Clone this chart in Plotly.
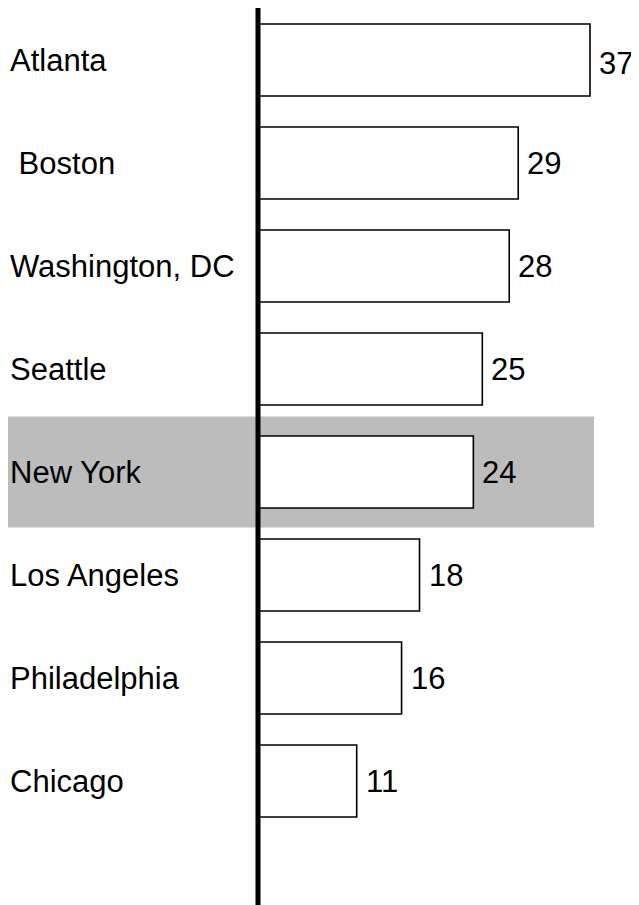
import plotly.graph_objects as go

cities = ["Atlanta", " Boston", "Washington, DC", "Seattle", "New York",
          "Los Angeles", "Philadelphia", "Chicago"]
values = [37, 29, 28, 25, 24, 18, 16, 11]
highlight = "New York"

# page body has an 8px margin, so the figure is drawn 8px in and down
OFF = 8
W, H = 639 - OFF, 905 - OFF
axis_px = 258 - OFF
px_per_unit = 332 / 37
row_px = 103
first_center = 60 - OFF

x_range = [-axis_px / px_per_unit, (W - axis_px) / px_per_unit]
y_range = [(H - first_center) / row_px, -first_center / row_px]

font_family = "Liberation Sans, Arial, sans-serif"
fs = 31

fig = go.Figure()
fig.add_trace(go.Bar(
    x=values, y=list(range(len(cities))), orientation="h", width=0.7,
    marker=dict(color="white", line=dict(color="black", width=1.6)),
    hoverinfo="skip", showlegend=False,
))

hi = cities.index(highlight)
fig.add_shape(type="rect", xref="paper", x0=-0.05, x1=(594 - OFF) / W,
              yref="y", y0=hi - 0.54, y1=hi + 0.54,
              fillcolor="#bcbcbc", line=dict(width=0), layer="below")
fig.add_shape(type="line", xref="x", x0=0, x1=0, yref="paper",
              y0=0, y1=1, line=dict(color="black", width=5),
              layer="above")

for i, (c, v) in enumerate(zip(cities, values)):
    label = ("\u00a0" + c.strip()) if c.startswith(" ") else c
    fig.add_annotation(x=0, xref="paper", y=i, yref="y", text=label,
                       xanchor="left", yanchor="middle", showarrow=False,
                       font=dict(size=fs, color="black", family=font_family))
    fig.add_annotation(x=v, xref="x", y=i, yref="y", text=str(v),
                       xanchor="left", yanchor="middle", xshift=7,
                       yshift=-3 if i == 0 else 0,
                       showarrow=False,
                       font=dict(size=fs, color="black", family=font_family))

fig.update_layout(
    width=W, height=H, margin=dict(l=0, r=0, t=0, b=0),
    paper_bgcolor="white", plot_bgcolor="white",
    xaxis=dict(range=x_range, visible=False, fixedrange=True),
    yaxis=dict(range=y_range, visible=False, fixedrange=True),
    font=dict(family=font_family),
)

fig.write_html("out.html")
